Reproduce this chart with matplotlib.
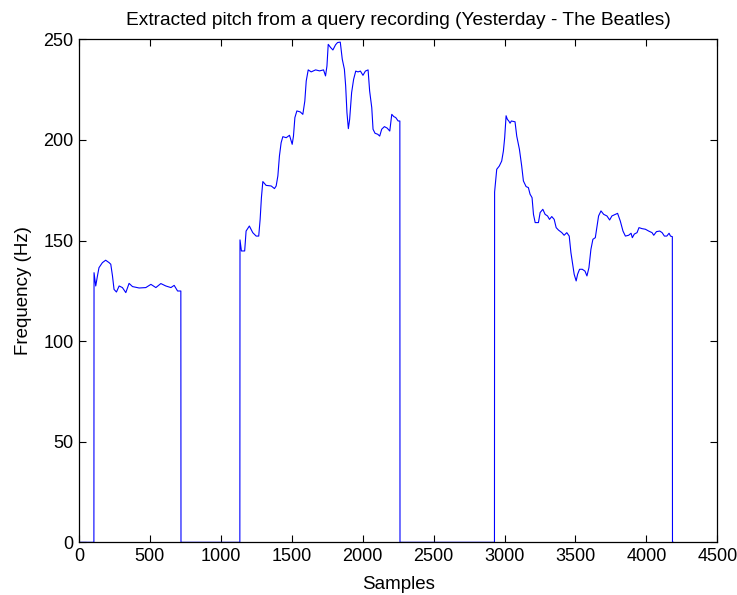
import numpy as np
import matplotlib
matplotlib.use("Agg")
import matplotlib.pyplot as plt

plt.rcParams['font.family'] = ['Liberation Sans', 'DejaVu Sans']

# ---- data (sample index, pitch in Hz) ----
seg1_x = [106, 118, 130, 141, 165, 188, 212, 224, 236, 247, 264, 283, 306, 330, 353,
          377, 424, 471, 507, 542, 577, 612, 648, 671, 695, 718]
seg1_y = [134.0, 127.4, 132.4, 136.5, 139.0, 140.2, 139.0, 138.2, 132.4, 125.7, 124.4,
          127.4, 126.6, 124.1, 128.7, 127.1, 126.4, 126.6, 128.2, 126.6, 128.6, 127.4,
          126.6, 127.7, 124.9, 124.9]

seg2_x = [1135, 1145, 1168, 1178, 1201, 1225, 1249, 1267, 1277, 1286, 1296, 1319, 1355,
          1378, 1390, 1402, 1413, 1425, 1437, 1461, 1484, 1503, 1512, 1522, 1536, 1560,
          1578, 1592, 1602, 1616, 1637, 1668, 1696, 1724, 1738, 1748, 1757, 1774, 1790,
          1809, 1823, 1842, 1856, 1871, 1880, 1889, 1899, 1908, 1922, 1936, 1951, 1967,
          1984, 2002, 2019, 2038, 2049, 2064, 2073, 2087, 2106, 2120, 2134, 2153, 2172,
          2191, 2205, 2219, 2233, 2250, 2262]
seg2_y = [150.3, 144.8, 144.8, 154.7, 157.2, 153.9, 152.2, 152.2, 160.5, 171.3, 179.3,
          177.4, 177.1, 175.8, 177.1, 182.1, 192.0, 198.6, 201.6, 201.1, 202.3, 197.8,
          201.9, 211.1, 214.4, 213.9, 212.7, 219.3, 229.3, 234.8, 233.8, 234.8, 234.3,
          234.8, 231.8, 236.7, 247.5, 245.9, 244.7, 247.3, 248.4, 248.6, 240.1, 235.1,
          226.8, 213.6, 205.6, 210.2, 223.5, 230.1, 234.2, 233.8, 234.2, 232.1, 234.2,
          234.8, 224.3, 216.0, 205.3, 203.3, 202.8, 201.9, 205.3, 206.6, 205.9, 204.4,
          212.7, 211.6, 211.1, 209.4, 209.4]

seg3_x = [2930, 2945, 2963, 2980, 2992, 3001, 3011, 3020, 3030, 3039, 3048, 3074, 3086,
          3105, 3121, 3133, 3152, 3168, 3180, 3194, 3204, 3216, 3239, 3251, 3270, 3286,
          3303, 3317, 3333, 3350, 3364, 3380, 3404, 3420, 3439, 3456, 3468, 3482, 3491,
          3505, 3515, 3529, 3548, 3567, 3581, 3595, 3609, 3623, 3640, 3651, 3663, 3680,
          3699, 3722, 3741, 3757, 3781, 3797, 3816, 3835, 3852, 3875, 3892, 3901, 3915,
          3934, 3948, 3969, 3993, 4016, 4040, 4052, 4071, 4094, 4111, 4127, 4144, 4160,
          4170, 4183]
seg3_y = [174.1, 185.4, 187.0, 189.5, 194.5, 201.1, 212.0, 210.2, 209.4, 208.3, 209.4,
          209.0, 201.9, 195.3, 187.0, 179.6, 176.8, 176.3, 173.0, 171.3, 163.0, 158.9,
          158.9, 163.9, 165.5, 163.0, 162.2, 160.5, 161.9, 160.5, 156.4, 155.2, 153.9,
          152.6, 153.9, 152.2, 144.0, 137.3, 133.2, 129.9, 133.2, 135.7, 135.7, 134.8,
          132.4, 136.5, 145.6, 150.6, 151.4, 156.4, 162.2, 164.7, 163.0, 162.2, 160.2,
          162.2, 163.0, 163.5, 159.7, 154.7, 152.2, 152.6, 153.6, 151.4, 153.2, 153.9,
          156.4, 155.9, 155.6, 154.7, 153.9, 152.6, 154.4, 154.7, 153.9, 152.2, 152.2,
          153.6, 152.2, 151.9]

first_sample = 1
last_sample = 4190

# ---- build the full contour with zeros in unvoiced gaps ----
xs, ys = [first_sample], [0.0]
for sx, sy in [(seg1_x, seg1_y), (seg2_x, seg2_y), (seg3_x, seg3_y)]:
    xs += [sx[0] - 1] + list(sx) + [sx[-1] + 1]
    ys += [0.0] + list(sy) + [0.0]
xs.append(last_sample)
ys.append(0.0)

fig = plt.figure(figsize=(7.37, 5.95), dpi=100)
ax = fig.add_axes([79 / 737, (595 - 542.3) / 595, (717.3 - 79) / 737, (542.3 - 39.3) / 595])
ax.plot(xs, ys, color='#0000ff', linewidth=0.8)

ax.set_xlim(0, 4500)
ax.set_ylim(0, 250)
ax.set_xticks(np.arange(0, 4501, 500))
ax.set_yticks(np.arange(0, 251, 50))
ax.tick_params(direction='in', top=True, right=True, length=5, width=0.8,
               labelsize=13, pad=4)
for sp in ax.spines.values():
    sp.set_linewidth(0.9)
    sp.set_color('black')

ax.set_title('Extracted pitch from a query recording (Yesterday - The Beatles)',
             fontsize=13.8, pad=10)
ax.set_xlabel('Samples', fontsize=13.5, labelpad=8)
ax.set_ylabel('Frequency (Hz)', fontsize=13.5, labelpad=8)

fig.savefig('out.png', dpi=100)
